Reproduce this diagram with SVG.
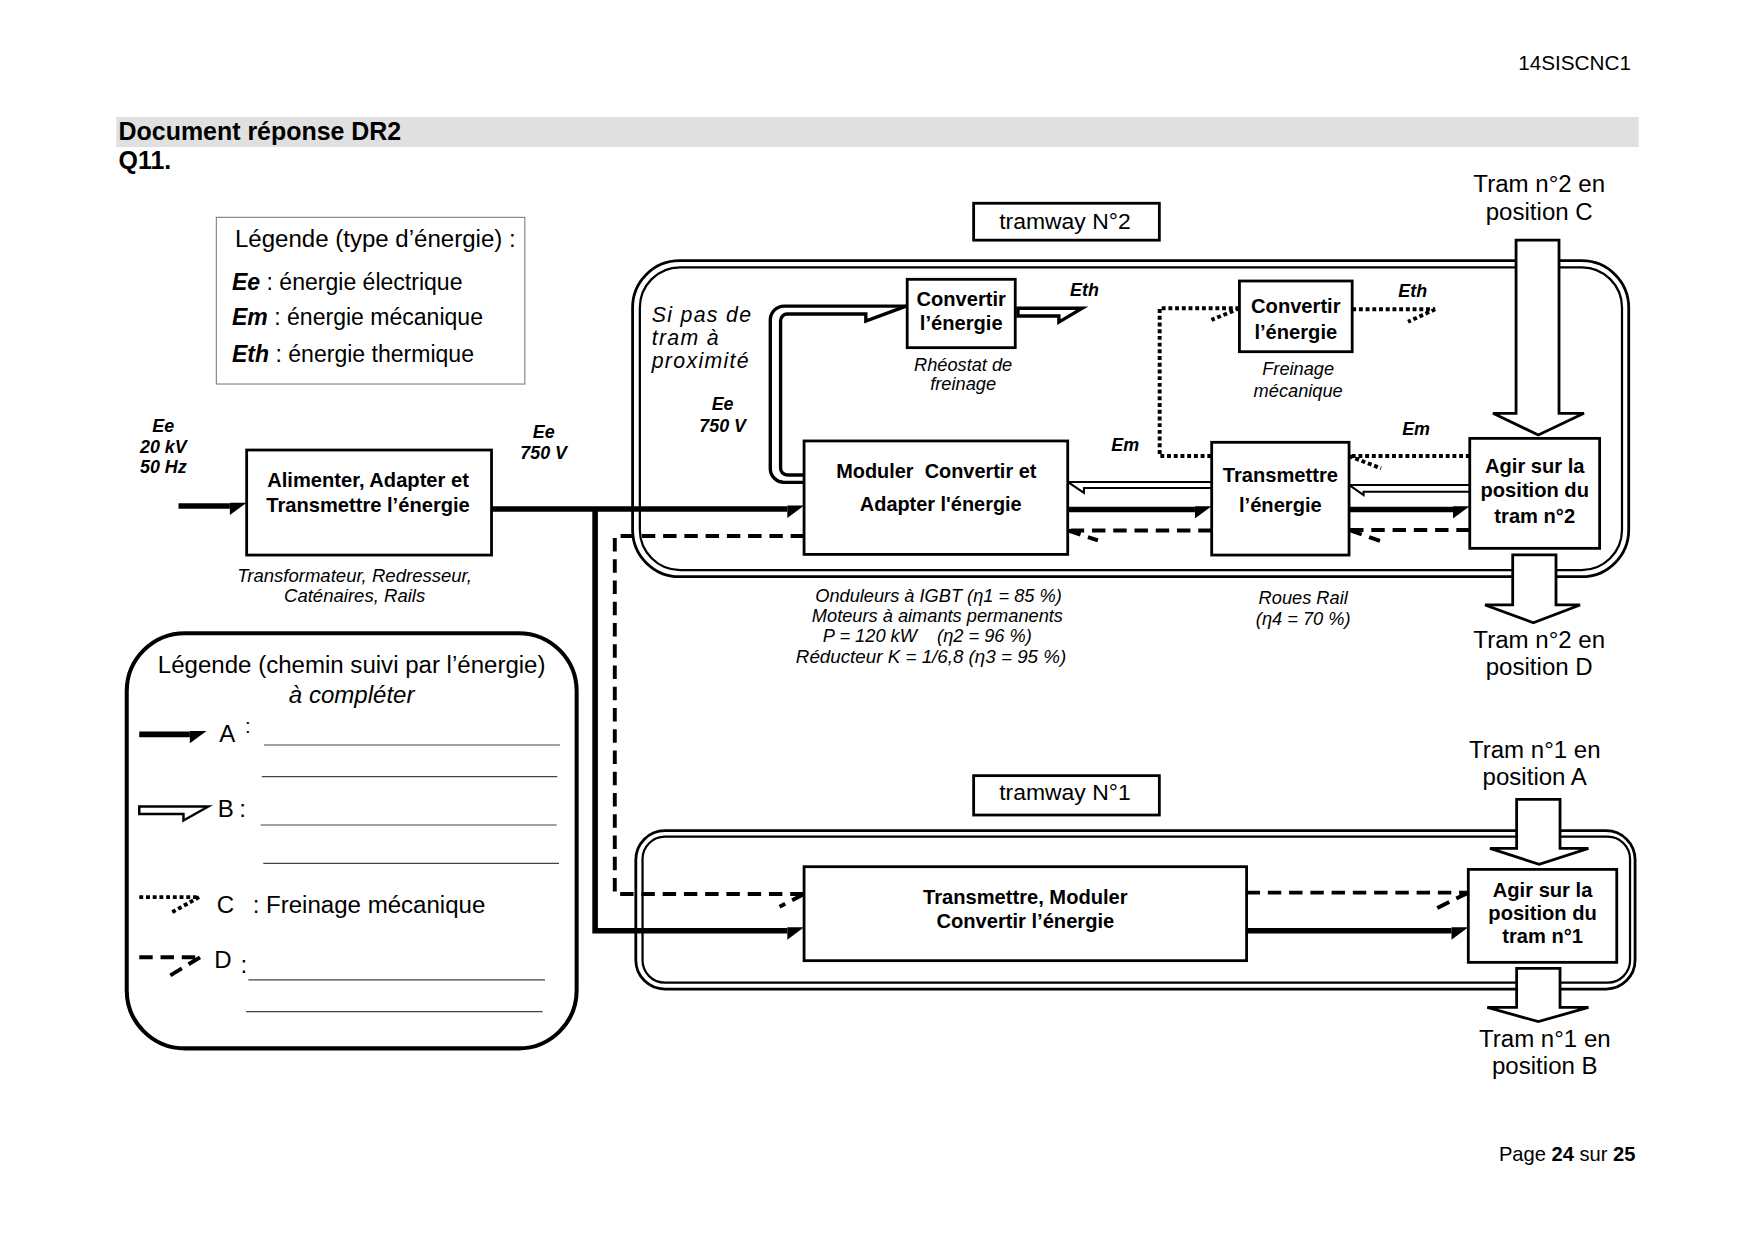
<svg xmlns="http://www.w3.org/2000/svg" width="1754" height="1240" viewBox="0 0 1754 1240">
<style>
text{font-family:"Liberation Sans",Arial,Helvetica,sans-serif;fill:#000}
.box{fill:#fff;stroke:#000;stroke-width:2.5}
.bx{font-weight:bold;font-size:18px;text-anchor:middle}
.it{font-style:italic;font-size:16.3px;text-anchor:middle}
.bi{font-style:italic;font-weight:bold;font-size:16px}
.bic{font-style:italic;font-weight:bold;font-size:16px;text-anchor:middle}
.n{font-size:21.5px}
.n2{font-size:20.6px}
.nc{font-size:21.5px;text-anchor:middle}
.A{fill:none;stroke:#000;stroke-width:5;stroke-linejoin:miter}
.B{fill:none;stroke:#000;stroke-width:1.8}
.Bt{fill:none;stroke:#000;stroke-width:3}
.C{fill:none;stroke:#000;stroke-width:3.5;stroke-dasharray:3.5 2.5}
.D{fill:none;stroke:#000;stroke-width:3.5;stroke-dasharray:12 7}
.ro{fill:none;stroke:#000;stroke-width:2.5}
.ri{fill:none;stroke:#000;stroke-width:2}
.big{fill:#fff;stroke:#000;stroke-width:2.5;stroke-linejoin:miter}
.ul{stroke:#444;stroke-width:1}
</style>
<defs>
<marker id="mA" markerUnits="userSpaceOnUse" markerWidth="20" markerHeight="20" viewBox="-1 -10 20 20" refX="0" refY="0" orient="auto" overflow="visible">
<path d="M0,-3 L15,-3 L0,8 Z" fill="#000"/>
</marker>
</defs>
<rect width="1754" height="1240" fill="#fff"/>
<g transform="scale(1.11862)">
<g id="header">
<text x="1458" y="63" style="font-size:18.5px;text-anchor:end">14SISCNC1</text>
<rect x="104" y="104.6" width="1361" height="26.8" fill="#e0e0e0"/>
<text x="106" y="125" style="font-size:22.3px;font-weight:bold">Document réponse DR2</text>
<text x="106" y="151" style="font-size:22.3px;font-weight:bold">Q11.</text>
<text x="1462" y="1038" style="font-size:18px;text-anchor:end">Page <tspan font-weight="bold">24</tspan> sur <tspan font-weight="bold">25</tspan></text>
</g>
<g id="legend-type">
<rect x="193.4" y="194.3" width="275.8" height="149" fill="#fff" stroke="#808080" stroke-width="1"/>
<text x="210" y="220.5" class="n">Légende (type d’énergie) :</text>
<text x="207.4" y="259.3" class="n2"><tspan font-weight="bold" font-style="italic">Ee</tspan> : énergie électrique</text>
<text x="207.4" y="290.5" class="n2"><tspan font-weight="bold" font-style="italic">Em</tspan> : énergie mécanique</text>
<text x="207.4" y="323.3" class="n2"><tspan font-weight="bold" font-style="italic">Eth</tspan> : énergie thermique</text>
</g>
<g id="tramway2-frame">
<rect x="565.5" y="233" width="890.5" height="282.5" rx="42" class="ro"/>
<rect x="572" y="239" width="878" height="270.6" rx="36" class="ri"/>
</g>
<g id="tramway1-frame">
<rect x="568.4" y="742.6" width="893.3" height="141.6" rx="26" class="ro"/>
<rect x="574.4" y="748" width="882.8" height="130.5" rx="20" class="ri"/>
</g>
<g id="connectors">
<path class="A" d="M159.6,452.4 H205.5" marker-end="url(#mA)"/>
<path class="A" d="M439.4,455 H703.8" marker-end="url(#mA)"/>
<path class="A" d="M532,455 V832 H703.8" marker-end="url(#mA)"/>
<path class="A" d="M954.5,455.5 H1068.2" marker-end="url(#mA)"/>
<path class="A" d="M1206,455.5 H1298.9" marker-end="url(#mA)"/>
<path class="A" d="M1114.4,832 H1297.6" marker-end="url(#mA)"/>
<path class="B" d="M1313.9,433.5 H1206 L1219,442.5 V439.5 H1313.9"/>
<path class="B" d="M1083.2,430.8 H954.5 L969,440.5 V436.3 H1083.2"/>
<path class="Bt" d="M910,275.6 H967.5 L946.6,288 V282.5 H910 Z"/>
<path class="Bt" d="M718.8,431.2 H701 A12.4,12.4 0 0 1 688.6,418.8 V286 A12.4,12.4 0 0 1 701,273.6 H810"/>
<path class="Bt" d="M718.8,424.6 H703.8 A6,6 0 0 1 697.8,418.6 V286.7 A6,6 0 0 1 703.8,280.7 H774 V287 L810,273.6"/>
<path class="C" d="M1108,275.6 H1036.7 V407.7 H1083.2"/>
<path class="C" d="M1108,275.6 L1083,286"/>
<path class="C" d="M1208.8,276.5 H1283 M1283,276.5 L1258.7,287.6"/>
<path class="C" d="M1313.9,407.7 H1206 M1206,407.7 L1234.6,418.7"/>
<path class="D" d="M1313.9,473.8 H1206 M1206,473.8 L1233.7,483.6"/>
<path class="D" d="M1083.2,474.2 H954.5 M954.5,474.2 L981.5,483"/>
<path class="D" d="M718.8,479.2 H549.6 V799.2 H718.8 M718.8,799.2 L696.9,810.5"/>
<path class="D" d="M1114.4,798 H1312.6 M1312.6,798 L1284.3,812"/>
</g>
<g id="n-alimenter">
<rect x="220.5" y="402.3" width="218.9" height="93.9" class="box"/>
<text x="329" y="435.7" class="bx">Alimenter, Adapter et</text>
<text x="329" y="457.4" class="bx">Transmettre l’énergie</text>
</g>
<g id="n-moduler">
<rect x="718.8" y="394.2" width="235.7" height="101.4" class="box"/>
<text x="837" y="427" class="bx" style="font-size:17.8px" xml:space="preserve">Moduler  Convertir et</text>
<text x="841" y="457" class="bx" style="font-size:17.8px">Adapter l'énergie</text>
</g>
<g id="n-rheostat">
<rect x="811" y="249.7" width="96.6" height="61.1" class="box"/>
<text x="859.3" y="273.6" class="bx">Convertir</text>
<text x="859.3" y="295" class="bx">l’énergie</text>
</g>
<g id="n-frein">
<rect x="1108" y="251.2" width="100.8" height="63.2" class="box"/>
<text x="1158.4" y="280" class="bx">Convertir</text>
<text x="1158.4" y="303.4" class="bx">l’énergie</text>
</g>
<g id="n-transmettre">
<rect x="1083.2" y="395.4" width="122.8" height="100.8" class="box"/>
<text x="1144.6" y="430.6" class="bx">Transmettre</text>
<text x="1144.6" y="457.4" class="bx">l’énergie</text>
</g>
<g id="n-agir2">
<rect x="1313.9" y="391.9" width="116.1" height="98.3" class="box"/>
<text x="1372" y="422.5" class="bx">Agir sur la</text>
<text x="1372" y="444" class="bx">position du</text>
<text x="1372" y="467.9" class="bx">tram n°2</text>
</g>
<g id="n-tram1">
<rect x="718.8" y="774.8" width="395.6" height="84" class="box"/>
<text x="916.6" y="808.2" class="bx">Transmettre, Moduler</text>
<text x="916.6" y="829.9" class="bx">Convertir l’énergie</text>
</g>
<g id="n-agir1">
<rect x="1312.6" y="777.2" width="132.7" height="83.1" class="box"/>
<text x="1379" y="801.6" class="bx">Agir sur la</text>
<text x="1379" y="822.5" class="bx">position du</text>
<text x="1379" y="843.3" class="bx">tram n°1</text>
</g>
<g id="big-arrows">
<path class="big" d="M1355.3,214.6 V369.5 H1334.7 L1375.2,388.9 L1416,369.5 H1393.7 V214.6 Z"/>
<path class="big" d="M1352.3,496 V540.8 H1327.6 L1370.7,556.7 L1412.5,540.8 H1391 V496 Z"/>
<path class="big" d="M1355.8,714.6 V758.4 H1332 L1376,772.7 L1420,758.4 H1394.6 V714.6 Z"/>
<path class="big" d="M1355.8,865.7 V900.5 H1329.6 L1375.2,913.3 L1420,900.5 H1394.6 V865.7 Z"/>
</g>
<g id="labels">
<rect x="870.4" y="181.7" width="166" height="33" class="box"/>
<text x="952" y="204.5" class="nc" style="font-size:20.5px">tramway N°2</text>
<rect x="870.4" y="693.4" width="166" height="35.2" class="box"/>
<text x="952" y="715.2" class="nc" style="font-size:20.5px">tramway N°1</text>
<text x="1376" y="172" class="nc">Tram n°2 en</text>
<text x="1376" y="197" class="nc">position C</text>
<text x="1376" y="579.6" class="nc">Tram n°2 en</text>
<text x="1376" y="603" class="nc">position D</text>
<text x="1372" y="678" class="nc">Tram n°1 en</text>
<text x="1372" y="702" class="nc">position A</text>
<text x="1381" y="936" class="nc">Tram n°1 en</text>
<text x="1381" y="960" class="nc">position B</text>
<text class="bic" x="146" y="386">Ee</text>
<text class="bic" x="146" y="404.7">20 kV</text>
<text class="bic" x="146" y="423">50 Hz</text>
<text class="bic" x="486" y="392">Ee</text>
<text class="bic" x="486" y="410">750 V</text>
<text class="bic" x="646" y="366.5">Ee</text>
<text class="bic" x="646" y="386">750 V</text>
<text class="bi" x="956.6" y="265">Eth</text>
<text class="bi" x="1250" y="265.2">Eth</text>
<text class="bi" x="993.4" y="403">Em</text>
<text class="bi" x="1253.5" y="389">Em</text>
<text x="582.6" y="287.6" style="font-style:italic;font-size:19px;letter-spacing:1.2px">Si pas de</text>
<text x="582.6" y="308.4" style="font-style:italic;font-size:19px;letter-spacing:1.2px">tram à</text>
<text x="582.6" y="329.3" style="font-style:italic;font-size:19px;letter-spacing:1.2px">proximité</text>
<text class="it" x="861" y="331.4">Rhéostat de</text>
<text class="it" x="861" y="349">freinage</text>
<text class="it" x="1160.5" y="335.2">Freinage</text>
<text class="it" x="1160.5" y="354.6">mécanique</text>
<text class="it" x="317" y="520" style="font-size:16.6px">Transformateur, Redresseur,</text>
<text class="it" x="317" y="538" style="font-size:16.6px">Caténaires, Rails</text>
<text class="it" x="839" y="538">Onduleurs à IGBT (η1 = 85 %)</text>
<text class="it" x="838" y="556">Moteurs à aimants permanents</text>
<text class="it" x="829" y="574" xml:space="preserve">P = 120 kW    (η2 = 96 %)</text>
<text class="it" x="832.3" y="592.5" style="font-size:16.8px">Réducteur K = 1/6,8 (η3 = 95 %)</text>
<text class="it" x="1165" y="540">Roues Rail</text>
<text class="it" x="1165" y="559">(η4 = 70 %)</text>
</g>
<g id="legend-path">
<rect x="113.3" y="566" width="402.2" height="371.2" rx="52" fill="none" stroke="#000" stroke-width="3.6"/>
<text x="314.4" y="602" class="nc">Légende (chemin suivi par l’énergie)</text>
<text x="314.4" y="628.8" class="nc" font-style="italic">à compléter</text>
<path class="A" d="M124.5,656.5 H169.7" marker-end="url(#mA)"/>
<text x="196" y="663" class="n">A</text>
<text x="219" y="655" style="font-size:18px">:</text>
<line class="ul" x1="236" y1="666" x2="500.6" y2="666"/>
<line class="ul" x1="234" y1="694.3" x2="498.2" y2="694.3"/>
<path class="Bt" style="stroke-width:2.2" d="M124.5,721 H186.2 L164,733.5 V727.7 H124.5 Z"/>
<text x="194.6" y="730" class="n">B</text>
<text x="214" y="730" class="n">:</text>
<line class="ul" x1="233" y1="737.5" x2="497.6" y2="737.5"/>
<line class="ul" x1="235.4" y1="771.8" x2="499.7" y2="771.8"/>
<path class="C" d="M124.5,802 H178 M178,802 L152,816.5"/>
<text x="193.7" y="816.5" class="n">C</text>
<text x="225.9" y="816.5" class="n">: Freinage mécanique</text>
<path class="D" d="M124.5,855.8 H178.8 M178.8,855.8 L150.5,873"/>
<text x="191.6" y="865.6" class="n">D</text>
<text x="215" y="870" class="n">:</text>
<line class="ul" x1="222" y1="876" x2="487.2" y2="876"/>
<line class="ul" x1="220" y1="904.4" x2="485.1" y2="904.4"/>
</g>
</g>
</svg>
